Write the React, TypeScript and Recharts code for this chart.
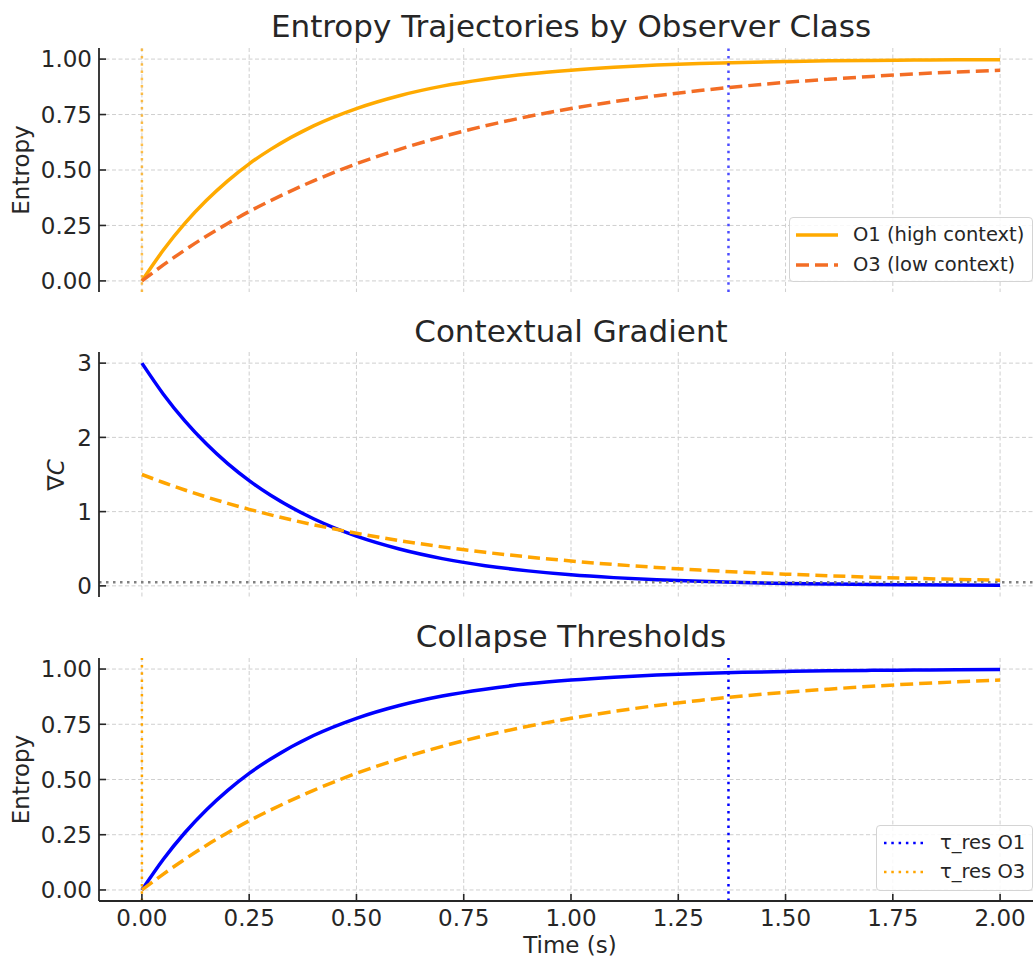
import React from 'react';
import { LineChart, Line, XAxis, YAxis, CartesianGrid, ReferenceLine, Legend } from 'recharts';

// ---------- data ----------
const timeS = [0, 0.05, 0.1, 0.15, 0.2, 0.25, 0.3, 0.4, 0.5, 0.6, 0.7, 0.8, 0.9, 1.0, 1.1, 1.2, 1.3, 1.4, 1.5, 1.6, 1.7, 1.8, 1.9, 2.0];
const entropyO1 = [0, 0.139, 0.259, 0.362, 0.451, 0.528, 0.593, 0.699, 0.777, 0.835, 0.878, 0.909, 0.933, 0.95, 0.963, 0.973, 0.98, 0.985, 0.989, 0.992, 0.994, 0.9955, 0.997, 0.9975];
const entropyO3 = [0, 0.072, 0.139, 0.2015, 0.259, 0.313, 0.362, 0.451, 0.528, 0.593, 0.65, 0.699, 0.741, 0.777, 0.808, 0.835, 0.858, 0.878, 0.895, 0.909, 0.922, 0.933, 0.942, 0.95];
const gradO1 = [3.0, 2.582, 2.222, 1.913, 1.646, 1.417, 1.22, 0.904, 0.669, 0.496, 0.367, 0.272, 0.202, 0.149, 0.111, 0.082, 0.061, 0.045, 0.033, 0.025, 0.018, 0.0135, 0.01, 0.0074];
const gradO3 = [1.5, 1.392, 1.291, 1.198, 1.111, 1.031, 0.956, 0.823, 0.709, 0.61, 0.525, 0.452, 0.389, 0.335, 0.288, 0.248, 0.213, 0.184, 0.158, 0.136, 0.117, 0.101, 0.087, 0.075];
const xTicks = [0, 0.25, 0.5, 0.75, 1.0, 1.25, 1.5, 1.75, 2.0];
const entropyTicks = [0, 0.25, 0.5, 0.75, 1.0];
const gradTicks = [0, 1, 2, 3];
const tauResO1 = 1.367;
const tauResO3 = 0.0;
const gradThreshold = 0.05;

const rows = timeS.map((t, i) => ({ t, e1: entropyO1[i], e3: entropyO3[i], g1: gradO1[i], g3: gradO3[i] }));

// ---------- style ----------
const FONT = '"DejaVu Sans", sans-serif';
const TXT = '#262626';
const AXIS = '#262626';
const GRID = '#cfcfcf';
const BLUE = '#0000FF';
const ORANGE = '#FFA500';
const AMBER = '#FFAA00';
const ORANGE_RED = '#F36D25';
const CHART_W = 1050;
const X_DOMAIN: [number, number] = [-0.1, 2.1];
const ENTROPY_DOMAIN: [number, number] = [-0.05, 1.05];
const GRAD_DOMAIN: [number, number] = [-0.15, 3.15];
const LW = 3.5;

// grid lines only at the tick values (linear mapping of the axis domains onto the plot area)
const vGen = (props: any) => {
  const off = props?.offset;
  if (!off || off.width == null) return [];
  const [a, b] = X_DOMAIN;
  return xTicks.map((v) => off.left + ((v - a) / (b - a)) * off.width);
};
const hGen = (ticks: number[], dom: [number, number]) => (props: any) => {
  const off = props?.offset;
  if (!off || off.height == null) return [];
  const [a, b] = dom;
  return ticks.map((v) => off.top + ((b - v) / (b - a)) * off.height);
};

function XTick(props: any) {
  const { x, y, payload, showLabel } = props;
  return (
    <g>
      <line x1={x} y1={y} x2={x} y2={y - 7} stroke={AXIS} strokeWidth={1.6} />
      {showLabel && (
        <text x={x} y={y + 25} textAnchor="middle" fontSize={23} fill={TXT} fontFamily={FONT}>
          {Number(payload.value).toFixed(2)}
        </text>
      )}
    </g>
  );
}

function YTick(props: any) {
  const { x, y, payload, decimals } = props;
  return (
    <g>
      <line x1={x} y1={y} x2={x + 7} y2={y} stroke={AXIS} strokeWidth={1.6} />
      <text x={x - 7} y={y} dy="0.36em" textAnchor="end" fontSize={23} fill={TXT} fontFamily={FONT}>
        {Number(payload.value).toFixed(decimals)}
      </text>
    </g>
  );
}

type LegItem = { label: string; color: string; dash?: string; width: number };

function LegendBox({ items, rowH, padL, sampleW, gap }: { items: LegItem[]; rowH: number; padL: number; sampleW: number; gap: number }) {
  return (
    <div
      style={{
        border: '1px solid #d4d4d4',
        borderRadius: 4,
        background: 'rgba(255,255,255,0.85)',
        padding: `2px 6px 3px ${padL}px`,
        fontFamily: FONT,
        fontSize: 19.5,
        color: TXT,
        boxSizing: 'border-box',
        width: '100%',
        height: '100%',
      }}
    >
      {items.map((it) => (
        <div key={it.label} style={{ display: 'flex', alignItems: 'center', height: rowH }}>
          <svg width={sampleW} height={10} style={{ flex: 'none' }}>
            <line x1={0} y1={5} x2={sampleW} y2={5} stroke={it.color} strokeWidth={it.width} strokeDasharray={it.dash} />
          </svg>
          <span style={{ marginLeft: gap, whiteSpace: 'nowrap', lineHeight: 1 }}>{it.label}</span>
        </div>
      ))}
    </div>
  );
}

const axisLine = { stroke: AXIS, strokeWidth: 1.8 };

export default function App() {
  return (
    <div style={{ position: 'absolute', left: 0, top: 0, width: 1033, height: 960, overflow: 'hidden', background: '#fff' }}>
      {/* Panel 1 */}
      <div style={{ position: 'absolute', left: 0, top: 0 }}>
        <LineChart width={CHART_W} height={300} data={rows} margin={{ top: 48, right: 7, bottom: 8, left: 0 }}>
          <CartesianGrid stroke={GRID} strokeDasharray="4 2.5" verticalCoordinatesGenerator={vGen} horizontalCoordinatesGenerator={hGen(entropyTicks, ENTROPY_DOMAIN)} />
          <XAxis dataKey="t" type="number" domain={X_DOMAIN} ticks={xTicks} interval={0} height={0} tickSize={0} tickMargin={0}
            axisLine={axisLine} tickLine={false} tick={<XTick showLabel={false} />} allowDataOverflow />
          <YAxis type="number" domain={ENTROPY_DOMAIN} ticks={entropyTicks} interval={0} width={99} tickSize={0} tickMargin={0}
            axisLine={axisLine} tickLine={false} tick={<YTick decimals={2} />} allowDataOverflow />
          <Line dataKey="e1" type="monotone" stroke={AMBER} strokeWidth={LW} dot={false} isAnimationActive={false} name="O1 (high context)" />
          <Line dataKey="e3" type="monotone" stroke={ORANGE_RED} strokeWidth={LW} strokeDasharray="13 6" dot={false} isAnimationActive={false} name="O3 (low context)" />
          <ReferenceLine x={tauResO3} stroke={ORANGE} strokeOpacity={0.7} strokeWidth={2.5} strokeDasharray="2.5 4.8" />
          <ReferenceLine x={tauResO1} stroke={BLUE} strokeOpacity={0.7} strokeWidth={2.5} strokeDasharray="2.5 4.8" />
          <Legend layout="vertical" align="center" verticalAlign="middle"
            wrapperStyle={{ left: 789, top: 217, width: 244, height: 65 }}
            content={() => (
              <LegendBox rowH={30} padL={6} sampleW={42} gap={15} items={[
                { label: 'O1 (high context)', color: AMBER, width: LW },
                { label: 'O3 (low context)', color: ORANGE_RED, width: LW, dash: '13 6' },
              ]} />
            )} />
        </LineChart>
      </div>

      {/* Panel 2 */}
      <div style={{ position: 'absolute', left: 0, top: 300 }}>
        <LineChart width={CHART_W} height={305} data={rows} margin={{ top: 52, right: 7, bottom: 8, left: 0 }}>
          <CartesianGrid stroke={GRID} strokeDasharray="4 2.5" verticalCoordinatesGenerator={vGen} horizontalCoordinatesGenerator={hGen(gradTicks, GRAD_DOMAIN)} />
          <XAxis dataKey="t" type="number" domain={X_DOMAIN} ticks={xTicks} interval={0} height={0} tickSize={0} tickMargin={0}
            axisLine={axisLine} tickLine={false} tick={<XTick showLabel={false} />} allowDataOverflow />
          <YAxis type="number" domain={GRAD_DOMAIN} ticks={gradTicks} interval={0} width={99} tickSize={0} tickMargin={0}
            axisLine={axisLine} tickLine={false} tick={<YTick decimals={0} />} allowDataOverflow />
          <Line dataKey="g1" type="monotone" stroke={BLUE} strokeWidth={LW} dot={false} isAnimationActive={false} />
          <Line dataKey="g3" type="monotone" stroke={ORANGE} strokeWidth={LW} strokeDasharray="12 6" dot={false} isAnimationActive={false} />
          <ReferenceLine y={gradThreshold} stroke="#808080" strokeWidth={2.5} strokeDasharray="2.5 4.5" />
        </LineChart>
      </div>

      {/* Panel 3 */}
      <div style={{ position: 'absolute', left: 0, top: 610 }}>
        <LineChart width={CHART_W} height={350} data={rows} margin={{ top: 48, right: 7, bottom: 0, left: 0 }}>
          <CartesianGrid stroke={GRID} strokeDasharray="4 2.5" verticalCoordinatesGenerator={vGen} horizontalCoordinatesGenerator={hGen(entropyTicks, ENTROPY_DOMAIN)} />
          <XAxis dataKey="t" type="number" domain={X_DOMAIN} ticks={xTicks} interval={0} height={59} tickSize={0} tickMargin={0}
            axisLine={axisLine} tickLine={false} tick={<XTick showLabel />} allowDataOverflow />
          <YAxis type="number" domain={ENTROPY_DOMAIN} ticks={entropyTicks} interval={0} width={99} tickSize={0} tickMargin={0}
            axisLine={axisLine} tickLine={false} tick={<YTick decimals={2} />} allowDataOverflow />
          <Line dataKey="e1" type="monotone" stroke={BLUE} strokeWidth={LW} dot={false} isAnimationActive={false} />
          <Line dataKey="e3" type="monotone" stroke={ORANGE} strokeWidth={LW} strokeDasharray="13 6" dot={false} isAnimationActive={false} />
          <ReferenceLine x={tauResO1} stroke={BLUE} strokeWidth={2.5} strokeDasharray="2.5 4.8" />
          <ReferenceLine x={tauResO3} stroke={ORANGE} strokeWidth={2.5} strokeDasharray="2.5 4.8" />
          <Legend layout="vertical" align="center" verticalAlign="middle"
            wrapperStyle={{ left: 876, top: 215, width: 157, height: 66 }}
            content={() => (
              <LegendBox rowH={29} padL={7} sampleW={40} gap={16} items={[
                { label: 'τ_res O1', color: BLUE, width: 2.5, dash: '2.5 4.8' },
                { label: 'τ_res O3', color: ORANGE, width: 2.5, dash: '2.5 4.8' },
              ]} />
            )} />
        </LineChart>
      </div>

      {/* Titles and axis labels */}
      <svg width={1033} height={960} style={{ position: 'absolute', left: 0, top: 0, pointerEvents: 'none' }}>
        <g fontFamily={FONT} fill={TXT}>
          <text x={571} y={37} fontSize={31} textAnchor="middle">Entropy Trajectories by Observer Class</text>
          <text x={571} y={342} fontSize={31} textAnchor="middle">Contextual Gradient</text>
          <text x={571} y={647} fontSize={31} textAnchor="middle">Collapse Thresholds</text>
          <text x={29} y={170} fontSize={23} textAnchor="middle" transform="rotate(-90 29 170)">Entropy</text>
          <text x={64} y={475} fontSize={23} textAnchor="middle" transform="rotate(-90 64 475)">
            ∇<tspan fontStyle="italic">C</tspan>
          </text>
          <text x={29} y={779.5} fontSize={23} textAnchor="middle" transform="rotate(-90 29 779.5)">Entropy</text>
          <text x={570} y={953} fontSize={23} textAnchor="middle">Time (s)</text>
        </g>
      </svg>
    </div>
  );
}
